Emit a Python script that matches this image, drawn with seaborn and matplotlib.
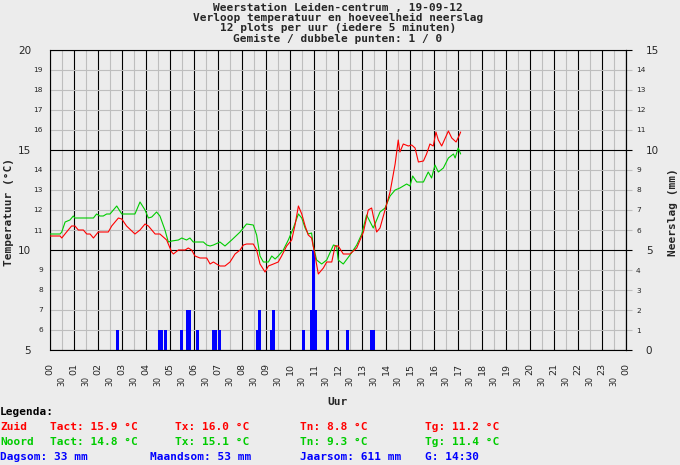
import numpy as np
import matplotlib
matplotlib.use("Agg")
import matplotlib.pyplot as plt
import seaborn as sns

# --- DATA ---
zuid_uur = [0.00, 0.42, 0.49, 0.69, 0.90, 1.04, 1.18, 1.39, 1.53, 1.67, 1.81, 2.01, 2.43, 2.57,
            2.85, 2.99, 3.19, 3.54, 3.75, 3.96, 4.10, 4.38, 4.58, 4.86, 5.07, 5.14, 5.35, 5.63,
            5.76, 5.90, 6.04, 6.25, 6.53, 6.67, 6.81, 6.94, 7.08, 7.29, 7.50, 7.71, 7.92, 8.06,
            8.19, 8.47, 8.61, 8.75, 8.96, 9.10, 9.31, 9.51, 9.65, 9.86, 10.07, 10.21, 10.35,
            10.49, 10.63, 10.76, 10.90, 11.00, 11.18, 11.39, 11.53, 11.74, 11.88, 12.01, 12.22,
            12.50, 12.78, 13.06, 13.26, 13.40, 13.61, 13.75, 13.96, 14.17, 14.38, 14.51, 14.58,
            14.72, 14.93, 15.07, 15.21, 15.35, 15.56, 15.69, 15.83, 15.97, 16.08, 16.18, 16.32,
            16.60, 16.74, 16.92, 17.06, 17.11]
zuid_temp = [10.7, 10.7, 10.6, 10.9, 11.2, 11.2, 11.0, 11.0, 10.8, 10.8, 10.6, 10.9, 10.9, 11.2,
             11.6, 11.55, 11.2, 10.8, 11.0, 11.3, 11.2, 10.8, 10.8, 10.5, 9.9, 9.8, 10.0, 10.0,
             10.1, 10.0, 9.7, 9.6, 9.6, 9.3, 9.4, 9.3, 9.2, 9.2, 9.4, 9.8, 10.0, 10.25,
             10.3, 10.3, 10.0, 9.3, 8.9, 9.2, 9.3, 9.4, 9.7, 10.2, 10.5, 11.25, 12.2,
             11.8, 11.2, 10.75, 10.6, 10.0, 8.8, 9.1, 9.4, 9.4, 10.2, 10.2, 9.8,
             9.8, 10.1, 10.9, 12.0, 12.1, 10.9, 11.1, 12.0, 12.9, 14.3, 15.5, 14.9,
             15.3, 15.2, 15.25, 15.1, 14.4, 14.45, 14.8, 15.3, 15.2, 15.9, 15.5, 15.2,
             15.95, 15.6, 15.4, 15.75, 15.9]

noord_uur = [0.00, 0.42, 0.49, 0.63, 0.83, 0.97, 1.04, 1.81, 1.94, 2.08, 2.22, 2.36, 2.50, 2.78,
             2.99, 3.54, 3.75, 3.96, 4.10, 4.24, 4.44, 4.58, 4.79, 4.93, 5.07, 5.35, 5.49, 5.69,
             5.83, 5.97, 6.39, 6.53, 6.67, 6.81, 7.08, 7.29, 7.57, 7.92, 8.19, 8.47, 8.61, 8.75,
             8.89, 9.10, 9.24, 9.38, 9.51, 9.72, 9.93, 10.14, 10.35, 10.49, 10.63, 10.76, 10.90,
             10.97, 11.11, 11.32, 11.53, 11.81, 11.94, 12.01, 12.22, 12.50, 12.78, 12.99, 13.19,
             13.47, 13.75, 13.96, 14.17, 14.38, 14.58, 14.72, 14.86, 15.00, 15.11, 15.28, 15.56,
             15.76, 15.90, 16.04, 16.18, 16.39, 16.60, 16.81, 16.88, 17.01, 17.11]
noord_temp = [10.8, 10.8, 10.9, 11.4, 11.5, 11.7, 11.6, 11.6, 11.8, 11.7, 11.7, 11.8, 11.8, 12.2,
              11.8, 11.8, 12.4, 12.0, 11.6, 11.65, 11.9, 11.7, 11.0, 10.4, 10.45, 10.5, 10.6, 10.5,
              10.6, 10.4, 10.4, 10.25, 10.2, 10.25, 10.4, 10.2, 10.5, 10.9, 11.3, 11.25, 10.75, 9.7,
              9.4, 9.4, 9.7, 9.55, 9.7, 10.0, 10.5, 11.1, 11.8, 11.6, 11.1, 10.8, 10.85,
              10.2, 9.5, 9.3, 9.5, 10.25, 10.2, 9.5, 9.3, 9.75, 10.25, 10.8, 11.75,
              11.1, 11.9, 12.1, 12.7, 13.0, 13.1, 13.2, 13.3, 13.2, 13.7, 13.4, 13.4,
              13.9, 13.6, 14.25, 13.9, 14.1, 14.6, 14.8, 14.6, 15.1, 14.8]

regen_tijd = ["02:45", "04:30", "04:35", "04:45", "05:25", "05:40", "05:45", "06:05", "06:45",
              "06:50", "07:00", "08:35", "08:40", "09:10", "09:15", "10:30", "10:50", "10:55",
              "11:00", "11:30", "12:20", "13:20", "13:25"]
regen_mm = [1, 1, 1, 1, 1, 2, 2, 1, 1, 1, 1, 1, 2, 1, 2, 1, 2, 5, 2, 1, 1, 1, 1]

uur_labels = ["00", "01", "02", "03", "04", "05", "06", "07", "08", "09", "10", "11", "12",
              "13", "14", "15", "16", "17", "18", "19", "20", "21", "22", "23", "00"]

titel = ["Weerstation Leiden-centrum , 19-09-12",
         "Verloop temperatuur en hoeveelheid neerslag",
         "12 plots per uur (iedere 5 minuten)",
         "Gemiste / dubbele punten: 1 / 0"]

ROOD = "#ff0000"
GROEN = "#00cc00"
BLAUW = "#0000ff"
GRIJS = "#bebebe"
ACHTERGROND = "#ececec"

# --- STIJL ---
sns.set_style("white", {"axes.facecolor": ACHTERGROND, "figure.facecolor": ACHTERGROND})
plt.rcParams["font.family"] = ["DejaVu Sans"]
MONO = "DejaVu Sans Mono"

W, H = 680, 465
fig = plt.figure(figsize=(W / 100, H / 100), dpi=100)
ax = fig.add_axes([50 / W, 115 / H, 576 / W, 300 / H])

# regen in uren
regen_uur = [int(t[:2]) + int(t[3:]) / 60 for t in regen_tijd]

# --- GRID ---
ax.set_xlim(0, 24)
ax.set_ylim(5, 20)
ax.set_xticks(range(25), labels=uur_labels)
halve_uren = np.arange(0.5, 24, 1.0)
ax.set_xticks(halve_uren, labels=["30"] * len(halve_uren), minor=True)
ax.set_yticks([5, 10, 15, 20], labels=["5", "10", "15", "20"])
temp_minor = [v for v in range(6, 20) if v % 5 != 0]
ax.set_yticks(temp_minor, labels=[str(v) for v in temp_minor], minor=True)

ax.grid(which="minor", color=GRIJS, lw=0.8)
ax.grid(which="major", color="black", lw=0.8)
ax.set_axisbelow(True)
for s in ax.spines.values():
    s.set_color("black")
    s.set_linewidth(0.8)

ax.tick_params(axis="x", which="major", length=7, width=0.8, color="black",
               labelsize=6.8, labelrotation=90, pad=2.5)
ax.tick_params(axis="x", which="minor", length=6, width=0.8, color=GRIJS,
               labelsize=5.7, labelrotation=90, pad=13)
ax.tick_params(axis="y", which="major", length=3.6, width=0.8, color="black",
               labelsize=7.5, pad=10)
ax.tick_params(axis="y", which="minor", length=3.6, width=0.8, color=GRIJS,
               labelsize=5.3, pad=1.5)

# --- NEERSLAG (rechter as) ---
ax.bar(regen_uur, regen_mm, width=0.125, bottom=5, align="edge", color=BLAUW,
       linewidth=0, zorder=2)

sec = ax.secondary_yaxis("right", functions=(lambda t: t - 5, lambda r: r + 5))
sec.set_yticks([0, 5, 10, 15], labels=["0", "5", "10", "15"])
regen_minor = [v for v in range(1, 15) if v % 5 != 0]
sec.set_yticks(regen_minor, labels=[str(v) for v in regen_minor], minor=True)
sec.tick_params(which="major", length=4.3, width=0.8, color="black", labelsize=7.5, pad=10)
sec.tick_params(which="minor", length=4.3, width=0.8, color=GRIJS, labelsize=5.3, pad=3)
sec.spines["right"].set_color("black")
sec.spines["right"].set_linewidth(0.8)

# --- TEMPERATUUR ---
sns.lineplot(x=noord_uur, y=noord_temp, color=GROEN, lw=0.8, ax=ax, zorder=3)
sns.lineplot(x=zuid_uur, y=zuid_temp, color=ROOD, lw=0.8, ax=ax, zorder=4)
ax.set_xlabel("")
ax.set_ylabel("")


def ftext(x, y, s, **kw):
    kw.setdefault("family", MONO)
    kw.setdefault("fontweight", "bold")
    kw.setdefault("fontsize", 8)
    fig.text(x / W, 1 - y / H, s, **kw)


for i, regel in enumerate(titel):
    ftext(338, 8 + i * 10.2, regel, ha="center", va="center")

ftext(9, 212, "Temperatuur (°C)", rotation=90, ha="center", va="center")
ftext(673, 212, "Neerslag (mm)", rotation=90, ha="center", va="center")
ftext(338, 402, "Uur", ha="center", va="center")

# --- LEGENDA ---
ftext(0, 412, "Legenda:", va="center", color="black")
ftext(0, 427, "Zuid", va="center", color=ROOD)
ftext(50, 427, "Tact: 15.9 °C", va="center", color=ROOD)
ftext(175, 427, "Tx: 16.0 °C", va="center", color=ROOD)
ftext(300, 427, "Tn: 8.8 °C", va="center", color=ROOD)
ftext(425, 427, "Tg: 11.2 °C", va="center", color=ROOD)
ftext(0, 442, "Noord", va="center", color=GROEN)
ftext(50, 442, "Tact: 14.8 °C", va="center", color=GROEN)
ftext(175, 442, "Tx: 15.1 °C", va="center", color=GROEN)
ftext(300, 442, "Tn: 9.3 °C", va="center", color=GROEN)
ftext(425, 442, "Tg: 11.4 °C", va="center", color=GROEN)
ftext(0, 457, "Dagsom: 33 mm", va="center", color=BLAUW)
ftext(150, 457, "Maandsom: 53 mm", va="center", color=BLAUW)
ftext(300, 457, "Jaarsom: 611 mm", va="center", color=BLAUW)
ftext(425, 457, "G: 14:30", va="center", color=BLAUW)

fig.savefig("out.png", dpi=100, facecolor=ACHTERGROND)
